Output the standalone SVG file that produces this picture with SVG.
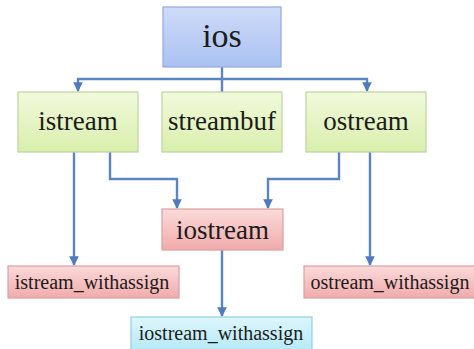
<svg xmlns="http://www.w3.org/2000/svg" width="474" height="349" viewBox="0 0 474 349">
<defs>
<linearGradient id="gBlue" x1="0" y1="0" x2="0" y2="1"><stop offset="0" stop-color="#cfdbf8"/><stop offset="1" stop-color="#a9c1f2"/></linearGradient>
<linearGradient id="gGreen" x1="0" y1="0" x2="0" y2="1"><stop offset="0" stop-color="#f1f9dc"/><stop offset="1" stop-color="#d9efac"/></linearGradient>
<linearGradient id="gRed" x1="0" y1="0" x2="0" y2="1"><stop offset="0" stop-color="#fbdada"/><stop offset="1" stop-color="#f1abab"/></linearGradient>
<linearGradient id="gCyan" x1="0" y1="0" x2="0" y2="1"><stop offset="0" stop-color="#def6fc"/><stop offset="1" stop-color="#b4e9f6"/></linearGradient>
<marker id="arr" viewBox="0 0 10 10" refX="9" refY="5" markerWidth="4" markerHeight="4" orient="auto" markerUnits="strokeWidth"><path d="M0,0 L10,5 L0,10 z" fill="#4f7bbd"/></marker>
</defs>
<style>
.box{stroke-width:1.2}
.blue{fill:url(#gBlue);stroke:#93a9dc}
.green{fill:url(#gGreen);stroke:#bfd49a}
.red{fill:url(#gRed);stroke:#dd9f9f}
.cyan{fill:url(#gCyan);stroke:#8fcfe0}
.t{fill:#1c1c1c;text-anchor:middle;font-family:'Liberation Serif',serif}
.big{font-size:34px}
.mid{font-size:27px}
.sm{font-size:20px}
.c{fill:none;stroke:#5a84c2;stroke-width:2.4}
</style>
<rect width="474" height="349" fill="#ffffff"/>
<g id="connectors">
<path class="c" d="M222,67 V79"/>
<path class="c" d="M222,79 H78 V91" marker-end="url(#arr)"/>
<path class="c" d="M222,79 H367 V91" marker-end="url(#arr)"/>
<path class="c" d="M222,79 V92"/>
<path class="c" d="M74,152 V265" marker-end="url(#arr)"/>
<path class="c" d="M110,152 V179 H177 V208" marker-end="url(#arr)"/>
<path class="c" d="M339,152 V179 H268 V208" marker-end="url(#arr)"/>
<path class="c" d="M370,152 V265" marker-end="url(#arr)"/>
<path class="c" d="M222,250 V316" marker-end="url(#arr)"/>
</g>
<g id="ios"><rect class="box blue" x="163" y="7" width="118" height="60"/><text class="t big" x="222" y="47">ios</text></g>
<g id="istream"><rect class="box green" x="18" y="92" width="120" height="60"/><text class="t mid" x="78" y="130">istream</text></g>
<g id="streambuf"><rect class="box green" x="162" y="92" width="120" height="60"/><text class="t mid" x="222" y="130">streambuf</text></g>
<g id="ostream"><rect class="box green" x="306" y="92" width="120" height="60"/><text class="t mid" x="366" y="130">ostream</text></g>
<g id="iostream"><rect class="box red" x="162" y="209" width="121" height="41"/><text class="t mid" x="222.5" y="239">iostream</text></g>
<g id="istream_withassign"><rect class="box red" x="8" y="266" width="171" height="32"/><text class="t sm" x="92" y="289">istream_withassign</text></g>
<g id="ostream_withassign"><rect class="box red" x="304" y="266" width="172" height="32"/><text class="t sm" x="390" y="289">ostream_withassign</text></g>
<g id="iostream_withassign"><rect class="box cyan" x="131" y="317" width="181" height="34"/><text class="t sm" x="221" y="340">iostream_withassign</text></g>
</svg>
